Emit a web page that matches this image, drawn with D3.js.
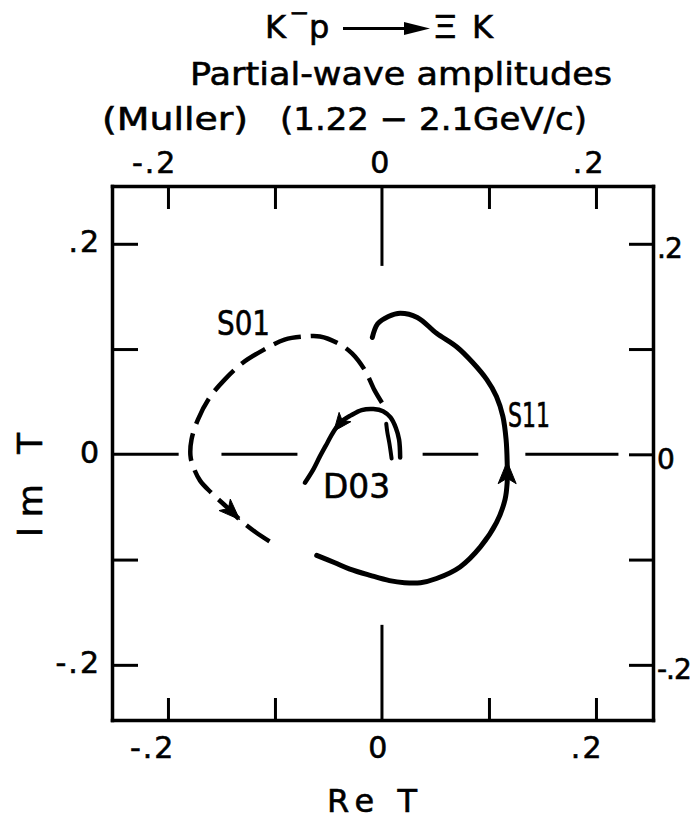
<!DOCTYPE html>
<html>
<head>
<meta charset="utf-8">
<script src="https://cdn.jsdelivr.net/npm/d3@7"></script>
<style>
  html, body { margin: 0; padding: 0; background: #fff; }
  svg { display: block; }
  text { font-family: "DejaVu Sans", "Noto Sans", sans-serif; fill: #000; stroke: #000; stroke-width: 0.6px; }
</style>
</head>
<body>
<svg id="chart" width="698" height="819"></svg>
<script>
// K-p -> Xi K partial-wave amplitudes, Argand plane (Re T, Im T)

// Axis ticks (same on all four sides)
const tickValues = [-0.2, -0.1, 0, 0.1, 0.2];
const tickLabels = ["-.2", "", "0", "", ".2"];

// Trajectories as [Re T, Im T], in order of increasing momentum
const s01 = [
  [0.000, 0.049], [-0.007, 0.061], [-0.016, 0.080], [-0.028, 0.096],
  [-0.042, 0.106], [-0.058, 0.112], [-0.072, 0.112], [-0.091, 0.109],
  [-0.111, 0.099], [-0.130, 0.087], [-0.147, 0.071], [-0.161, 0.054],
  [-0.172, 0.033], [-0.178, 0.014], [-0.179, -0.001], [-0.177, -0.010],
  [-0.170, -0.025], [-0.159, -0.037], [-0.144, -0.051], [-0.133, -0.062],
  [-0.118, -0.074], [-0.103, -0.084]
];
const s11 = [
  [-0.061, -0.096], [-0.044, -0.103], [-0.030, -0.109], [-0.011, -0.115],
  [0.007, -0.120], [0.021, -0.122], [0.036, -0.122], [0.051, -0.118],
  [0.073, -0.107], [0.092, -0.088], [0.107, -0.065], [0.115, -0.043],
  [0.117, -0.027], [0.117, -0.007], [0.116, 0.014], [0.113, 0.036],
  [0.107, 0.055], [0.098, 0.071], [0.085, 0.087], [0.070, 0.102],
  [0.051, 0.115], [0.033, 0.130], [0.017, 0.134], [0.006, 0.131],
  [-0.004, 0.124], [-0.009, 0.111]
];
const d03 = [
  [0.017, -0.003], [0.016, 0.014], [0.013, 0.025], [0.008, 0.035],
  [0.001, 0.041], [-0.008, 0.043], [-0.019, 0.042], [-0.029, 0.037],
  [-0.038, 0.031], [-0.045, 0.022], [-0.051, 0.011], [-0.058, -0.002],
  [-0.064, -0.014], [-0.072, -0.027]
];
// second strand of D03 at its starting end
const d03Strand = [[0.009, -0.004], [0.007, 0.010], [0.005, 0.021], [0.004, 0.029]];

// index of the point where each direction arrow sits
const s01ArrowAt = 19;
const s11ArrowAt = 13;
const d03ArrowAt = 9;

// pieces of the Im T = 0 and Re T = 0 guide lines
const zeroReSegments = [[-0.2523, -0.190], [-0.150, -0.079], [0.038, 0.090], [0.134, 0.221]];
const zeroImSegments = [[0.179, 0.2549], [-0.2524, -0.162]];

const svg = d3.select("#chart");

const x = d3.scaleLinear().domain([-0.2523, 0.2533]).range([112, 653]);
const y = d3.scaleLinear().domain([-0.2524, 0.2549]).range([720, 186]);

const fmt = d => tickLabels[tickValues.indexOf(d)];

function styleAxis(g) {
  g.select(".domain").attr("stroke", "#000").attr("stroke-width", 3.5).attr("stroke-linecap", "square");
  g.selectAll(".tick line").attr("stroke", "#000").attr("stroke-width", 3);
  g.selectAll(".tick text")
    .attr("font-family", "DejaVu Sans, sans-serif")
    .attr("font-size", 30)
    .attr("letter-spacing", 2)
    .attr("fill", "#000");
}

// frame + ticks
const axTop = svg.append("g").attr("transform", `translate(0,${y.range()[1]})`)
  .call(d3.axisTop(x).tickValues(tickValues).tickFormat(fmt).tickSizeInner(-23).tickSizeOuter(0));
styleAxis(axTop);
axTop.selectAll(".tick text").attr("y", -13).attr("dy", 0).attr("x", 9).attr("text-anchor", "end");

const axBottom = svg.append("g").attr("transform", `translate(0,${y.range()[0]})`)
  .call(d3.axisBottom(x).tickValues(tickValues).tickFormat(fmt).tickSizeInner(-22).tickSizeOuter(0));
styleAxis(axBottom);
axBottom.selectAll(".tick text").attr("y", 38).attr("dy", 0).attr("x", 7).attr("text-anchor", "end");

const axLeft = svg.append("g").attr("transform", `translate(${x.range()[0]},0)`)
  .call(d3.axisLeft(y).tickValues(tickValues).tickFormat(fmt).tickSizeInner(-26).tickSizeOuter(0));
styleAxis(axLeft);
axLeft.selectAll(".tick text").attr("x", -11).attr("y", -3).attr("dy", "0.36em").attr("text-anchor", "end");

const axRight = svg.append("g").attr("transform", `translate(${x.range()[1]},0)`)
  .call(d3.axisRight(y).tickValues(tickValues).tickFormat(fmt).tickSizeInner(-24).tickSizeOuter(0));
styleAxis(axRight);
axRight.selectAll(".tick text").attr("x", 4).attr("y", 4).attr("dy", "0.36em")
  .attr("text-anchor", "start").attr("letter-spacing", -1).attr("font-size", 28);

// the zero ticks on top, bottom and left are replaced by the guide-line pieces
[axTop, axBottom, axLeft].forEach(g => g.selectAll(".tick").filter(d => d === 0).select("line").remove());

const guides = svg.append("g").attr("stroke", "#000").attr("stroke-width", 3);
guides.selectAll("line.h").data(zeroReSegments).join("line").attr("class", "h")
  .attr("x1", d => x(d[0])).attr("x2", d => x(d[1]))
  .attr("y1", y(0)).attr("y2", y(0));
guides.selectAll("line.v").data(zeroImSegments).join("line").attr("class", "v")
  .attr("x1", x(0)).attr("x2", x(0))
  .attr("y1", d => y(d[0])).attr("y2", d => y(d[1]));

// trajectories
const line = d3.line().x(d => x(d[0])).y(d => y(d[1])).curve(d3.curveCatmullRom.alpha(0.5));
const curves = svg.append("g").attr("fill", "none").attr("stroke", "#000");

curves.append("path").datum(s01).attr("d", line)
  .attr("stroke-width", 4.5).attr("stroke-dasharray", "28,10");
curves.append("path").datum(s11).attr("d", line)
  .attr("stroke-width", 5).attr("stroke-linecap", "round");
curves.append("path").datum(d03).attr("d", line)
  .attr("stroke-width", 4.5).attr("stroke-linecap", "round");
curves.append("path").datum(d03Strand).attr("d", line)
  .attr("stroke-width", 4).attr("stroke-linecap", "round");

// direction arrows
function arrowHead(pts, i, len, half) {
  const tx = x(pts[i][0]), ty = y(pts[i][1]);
  const px = x(pts[i - 1][0]), py = y(pts[i - 1][1]);
  const a = Math.atan2(ty - py, tx - px);
  const bx = tx - len * Math.cos(a), by = ty - len * Math.sin(a);
  const nx = -Math.sin(a) * half, ny = Math.cos(a) * half;
  return `M${tx},${ty}L${bx + nx},${by + ny}L${bx + len * 0.25 * Math.cos(a)},${by + len * 0.25 * Math.sin(a)}L${bx - nx},${by - ny}Z`;
}
const arrows = svg.append("g").attr("fill", "#000").attr("stroke", "#000").attr("stroke-width", 1);
arrows.append("path").attr("d", arrowHead(s01, s01ArrowAt, 21, 8));
arrows.append("path").attr("d", arrowHead(s11, s11ArrowAt, 22, 9));
arrows.append("path").attr("d", arrowHead(d03, d03ArrowAt, 18, 7.5));

// curve labels
const lbl = svg.append("g").attr("font-size", 33);
lbl.append("text").attr("x", 217).attr("y", 335).attr("textLength", 53).attr("lengthAdjust", "spacingAndGlyphs").text("S01");
lbl.append("text").attr("x", 508).attr("y", 427).attr("textLength", 42).attr("lengthAdjust", "spacingAndGlyphs").text("S11");
lbl.append("text").attr("x", 323).attr("y", 498).attr("textLength", 67).attr("lengthAdjust", "spacingAndGlyphs").text("D03");

// axis titles
svg.append("text").attr("x", 327).attr("y", 812).attr("font-size", 32)
  .attr("textLength", 90).attr("lengthAdjust", "spacing").text("Re T");
svg.append("text").attr("transform", "translate(42,485) rotate(-90)")
  .attr("text-anchor", "middle").attr("font-size", 34)
  .attr("textLength", 104).attr("lengthAdjust", "spacing").text("Im T");

// heading
const head = svg.append("g").attr("font-size", 32);
head.append("text").attr("x", 265).attr("y", 38).text("K");
head.append("text").attr("x", 289).attr("y", 21).attr("font-size", 24).text("\u2212");
head.append("text").attr("x", 309).attr("y", 38).text("p");
head.append("line").attr("x1", 343).attr("x2", 410).attr("y1", 28.5).attr("y2", 28.5)
  .attr("stroke", "#000").attr("stroke-width", 3);
head.append("path").attr("d", "M404,22L430,28.5L404,35Z").attr("fill", "#000");
head.append("text").attr("x", 432).attr("y", 38).attr("textLength", 26).attr("lengthAdjust", "spacingAndGlyphs").text("\u039E");
head.append("text").attr("x", 472).attr("y", 38).text("K");
head.append("text").attr("x", 190).attr("y", 85).attr("textLength", 422)
  .attr("lengthAdjust", "spacingAndGlyphs").text("Partial-wave amplitudes");
head.append("text").attr("x", 102).attr("y", 130).attr("textLength", 146)
  .attr("lengthAdjust", "spacingAndGlyphs").text("(Muller)");
head.append("text").attr("x", 280).attr("y", 130).attr("textLength", 307)
  .attr("lengthAdjust", "spacingAndGlyphs").text("(1.22 \u2212 2.1GeV/c)");
</script>
</body>
</html>
